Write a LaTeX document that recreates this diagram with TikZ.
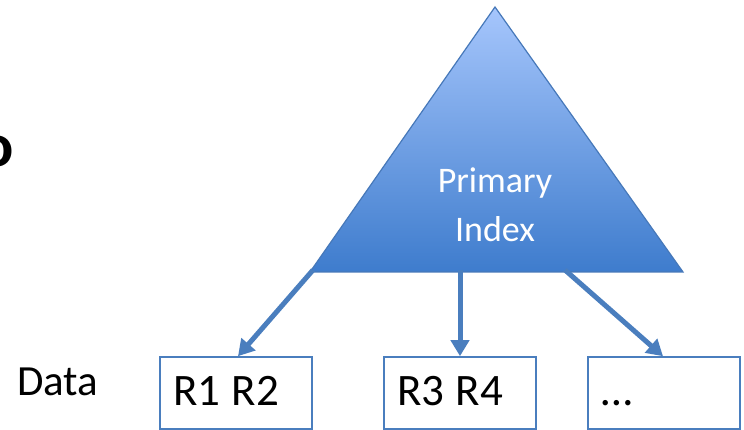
\documentclass[tikz,border=0pt]{standalone}
\usepackage{fontspec}
\setmainfont{Carlito}
\usetikzlibrary{arrows.meta}

\definecolor{edgeblue}{RGB}{74,126,190}
\definecolor{triline}{RGB}{70,120,185}
\definecolor{tritop}{RGB}{166,198,252}
\definecolor{tribot}{RGB}{62,124,205}

\tikzset{
  databox/.style={draw=edgeblue, line width=1.6pt, fill=white,
    minimum width=152pt, minimum height=72pt, inner xsep=13pt, inner ysep=0pt,
    text width=126pt, align=left, text height=28pt, text depth=4pt,
    font=\fontsize{45}{48}\selectfont},
  link/.style={draw=edgeblue, line width=5pt,
    -{Triangle[width=18pt,length=16pt]}},
}

\begin{document}
\begin{tikzpicture}[x=1pt,y=-1pt]
  \useasboundingbox (0,0) rectangle (744,430);

  % index triangle
  \coordinate (apex) at (495,7);
  \coordinate (baseL) at (310,272);
  \coordinate (baseR) at (683,272);
  \shade[top color=tritop, bottom color=tribot, draw=triline, line width=1.2pt,
         line join=miter]
    (apex) -- (baseR) -- (baseL) -- cycle;
  \node (idx) [align=center, text=white, inner sep=0pt,
    font=\fontsize{36}{49}\selectfont] at (495,205) {Primary\\Index};

  % leaf pages
  \node (p1) [databox] at (236,393) {R1\hspace{0.26em}R2};
  \node (p2) [databox] at (460,393) {R3\hspace{0.26em}R4};
  \node (p3) [databox] at (664,393) {\char"2026};

  % pointers from the index down to the pages
  \coordinate (s1) at (313,270);
  \coordinate (s2) at (460,270);
  \coordinate (s3) at (565,270);
  \draw[link] (s1) -- ([xshift=2pt]p1.north);
  \draw[link] (s2) -- (p2.north);
  \draw[link] (s3) -- ([xshift=-1pt]p3.north);

  \node (data) [anchor=base west, inner sep=0pt,
    font=\fontsize{43}{46}\selectfont] at (17,395) {Data};

  \node (cut) [anchor=base east, inner sep=0pt,
    font=\fontsize{62}{70}\selectfont\bfseries] at (14.5,167) {o};
\end{tikzpicture}
\end{document}
